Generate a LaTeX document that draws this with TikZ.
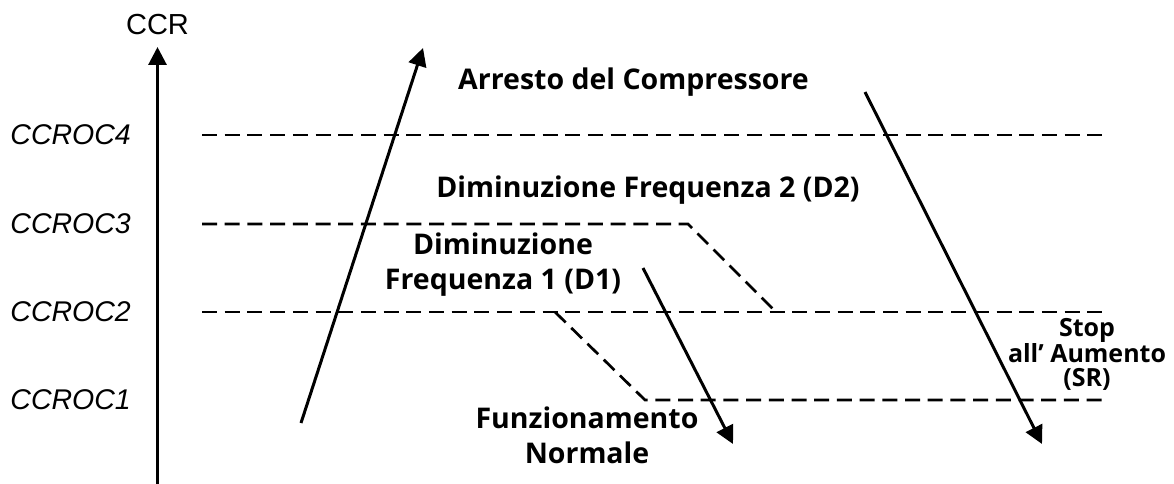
\documentclass[tikz,border=0pt]{standalone}
\usepackage{fontspec}
\setmainfont{Liberation Sans}
\newfontfamily\labfont{Open Sans}
\usetikzlibrary{arrows.meta}
\begin{document}
\begin{tikzpicture}[x=1pt,y=-1pt,
  solidarrow/.style={line width=3pt,-{Triangle[length=18pt,width=18pt]}},
  dashline/.style={line width=2.7pt,dash pattern=on 15pt off 7.7pt},
  level/.style={anchor=east,inner sep=0pt,font=\fontsize{28.5}{34}\selectfont\itshape},
  biglab/.style={inner sep=0pt,align=center,font=\labfont\bfseries\fontsize{28.5}{35}\selectfont},
  smalllab/.style={inner sep=0pt,align=center,font=\labfont\bfseries\fontsize{25}{24}\selectfont}]
\useasboundingbox (0,0) rectangle (1174,484);
% axis
\node[inner sep=0pt,font=\fontsize{29}{34}\selectfont] (ccr) at (157.5,25) {CCR};
\coordinate (axb) at (157.5,486);
\coordinate (axt) at (157.5,47);
\draw[solidarrow] (axb) -- (axt);
% level labels
\node[level] (c4) at (131,135) {CCROC4};
\node[level] (c3) at (131,224) {CCROC3};
\node[level] (c2) at (131,312) {CCROC2};
\node[level] (c1) at (131,400) {CCROC1};
% dashed threshold lines
\coordinate (l4a) at (202,135); \coordinate (l4b) at (1106,135);
\coordinate (l3a) at (202,224); \coordinate (l3b) at (688,224);
\coordinate (l3c) at (776,312);
\coordinate (l2a) at (202,312); \coordinate (l2b) at (1108,312);
\coordinate (l2c) at (555,312);
\coordinate (l1a) at (645,400); \coordinate (l1b) at (1104,400);
\draw[dashline] (l4a) -- (l4b);
\draw[dashline] (l3a) -- (l3b) -- (l3c);
\draw[dashline] (l2a) -- (l2b);
\draw[dashline] (l2c) -- (l1a) -- (l1b);
% arrows
\coordinate (upA) at (301,423); \coordinate (upB) at (423,48);
\coordinate (d1A) at (643,268); \coordinate (d1B) at (733,444);
\coordinate (stA) at (865,92);  \coordinate (stB) at (1042,444);
\draw[solidarrow] (upA) -- (upB);
\draw[solidarrow] (d1A) -- (d1B);
\draw[solidarrow] (stA) -- (stB);
% labels
\node[biglab] (arr) at (633.5,82) {Arresto del Compressore};
\node[biglab] (dd2) at (648,190) {Diminuzione Frequenza 2 (D2)};
\node[biglab] (dd1) at (503,264.5) {Diminuzione\\Frequenza 1 (D1)};
\node[biglab] (fn) at (587,435.5) {Funzionamento\\Normale};
\node[smalllab] (sr) at (1087,354) {Stop\\all’ Aumento\\(SR)};
\end{tikzpicture}
\end{document}
